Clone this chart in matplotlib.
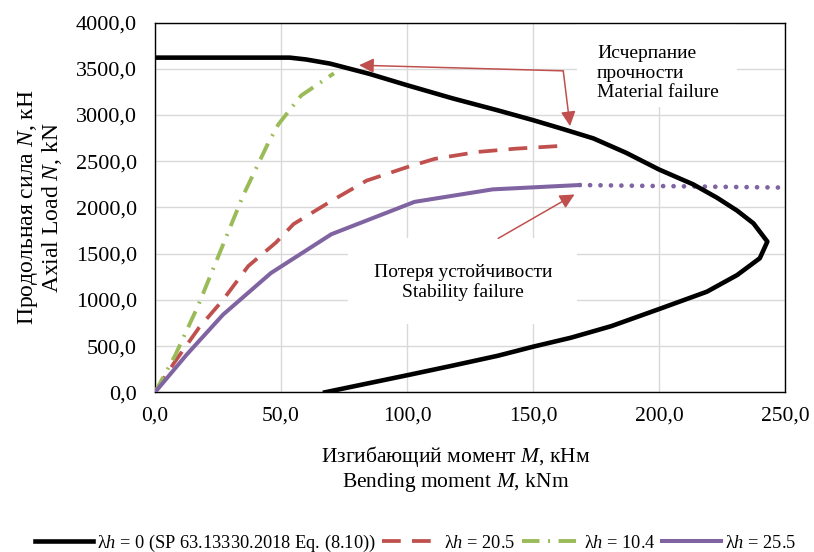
import matplotlib
matplotlib.use('Agg')
import matplotlib.pyplot as plt
from matplotlib.patches import Rectangle
from matplotlib.ticker import FuncFormatter, MultipleLocator

# Fonts: Times-like serif for everything, italic symbols through mathtext
plt.rcParams['font.family'] = ['Liberation Serif', 'DejaVu Serif']
plt.rcParams['mathtext.fontset'] = 'custom'
plt.rcParams['mathtext.rm'] = 'Liberation Serif'
plt.rcParams['mathtext.it'] = 'Liberation Serif:italic'

# Data (M in kNm, N in kN)
# Interaction curve, lambda*h = 0
m_limit = [0, 53.5, 60, 69.5, 85, 100, 118, 136, 150, 161, 174, 187, 200, 213.5, 223, 231, 237.5, 243,
           240, 231, 219, 200, 181, 165, 150, 136, 118, 100.5, 83, 67.5]
n_limit = [3620, 3620, 3600, 3555, 3445, 3322, 3180, 3050, 2944, 2855, 2746, 2590, 2410, 2250, 2105, 1965, 1827, 1630,
           1450, 1268, 1088, 900, 715, 590, 493, 395, 288, 187, 88, 0]

# lambda*h = 20.5
m_205 = [0, 7.5, 17.5, 27, 37, 48, 55, 70, 84, 100, 111, 128, 143, 164]
n_205 = [0, 315, 700, 1000, 1365, 1620, 1820, 2070, 2290, 2435, 2525, 2600, 2635, 2670]

# lambda*h = 10.4
m_104 = [0, 8, 17, 26, 35, 45, 49, 58, 71]
n_104 = [0, 400, 930, 1530, 2130, 2700, 2900, 3210, 3450]

# lambda*h = 25.5 (solid part and dotted continuation)
m_255 = [0, 12.5, 27, 46, 70, 103, 134, 168.5]
n_255 = [0, 405, 840, 1290, 1710, 2060, 2195, 2242]
m_255_ext = [168.5, 250]
n_255_ext = [2242, 2214]

legend_labels = ['λ$h$ = 0 (SP 63.13330.2018 Eq. (8.10))', 'λ$h$ = 20.5', 'λ$h$ = 10.4', 'λ$h$ = 25.5']

c_black = '#000000'
c_red = '#c0504d'
c_green = '#9bbb59'
c_purple = '#8064a2'
c_arrow = '#c0504d'

fig = plt.figure(figsize=(8.14, 5.52), dpi=100)
ax = fig.add_axes([155 / 814, 1 - 392.3 / 552, 630 / 814, 369.8 / 552])

l1, = ax.plot(m_limit, n_limit, color=c_black, lw=3.3, zorder=4)
l2, = ax.plot(m_205, n_205, color=c_red, lw=2.7, ls=(0, (5, 3)), zorder=3)
l3, = ax.plot(m_104, n_104, color=c_green, lw=2.8, ls=(0, (4.5, 2.2, 0.5, 2.2)), zorder=3)
l4, = ax.plot(m_255, n_255, color=c_purple, lw=2.9, zorder=3)
ax.plot(m_255_ext, n_255_ext, color=c_purple, lw=3.4, ls=(0, (0.01, 2.2)),
        dash_capstyle='round', zorder=3)

# white boxes behind the notes (they hide the grid)
ax.add_patch(Rectangle((167.5, 3085), 63.5, 915, facecolor='white', edgecolor='none', zorder=1.5))
ax.add_patch(Rectangle((76.6, 739), 90.9, 929, facecolor='white', edgecolor='none', zorder=1.5))

# Annotation arrows
arrow_kw = dict(arrowstyle='-|>', color=c_arrow, lw=1.1, mutation_scale=22, shrinkA=0, shrinkB=0)
ax.annotate('', xy=(81, 3538), xytext=(162, 3477), arrowprops=arrow_kw, zorder=5)
ax.annotate('', xy=(164.7, 2879), xytext=(162, 3477), arrowprops=arrow_kw, zorder=5)
ax.annotate('', xy=(166.5, 2140), xytext=(136.2, 1665), arrowprops=arrow_kw, zorder=5)

ax.text(175.4, 3452, 'Исчерпание\nпрочности\nMaterial failure', fontsize=14,
        ha='left', va='center', linespacing=1.2, zorder=2)
ax.text(122.2, 1187, 'Потеря устойчивости\nStability failure', fontsize=14,
        ha='center', va='center', linespacing=1.2, zorder=2)

ax.set_xlim(0, 250)
ax.set_ylim(0, 4000)
ax.xaxis.set_major_locator(MultipleLocator(50))
ax.yaxis.set_major_locator(MultipleLocator(500))
comma = FuncFormatter(lambda v, p: f'{v:.1f}'.replace('.', ','))
ax.xaxis.set_major_formatter(comma)
ax.yaxis.set_major_formatter(comma)
ax.tick_params(axis='x', length=0, labelsize=15.5, pad=10)
ax.tick_params(axis='y', length=0, labelsize=16, pad=13)
ax.set_axisbelow(True)
ax.grid(True, color='#d9d9d9', lw=1.0)
for s in ax.spines.values():
    s.set_color('#000000')
    s.set_linewidth(1.0)

ax.set_xlabel('Изгибающий момент $M$, кНм\nBending moment $M$, kNm', fontsize=15.5, linespacing=1.1)
ax.set_ylabel('Продольная сила $N$, кН\nAxial Load $N$, kN', fontsize=17, linespacing=1.0)
ax.xaxis.set_label_coords(0.478, -0.141, transform=ax.transAxes)
ax.yaxis.set_label_coords(-0.145, 0.5, transform=ax.transAxes)

fig.legend([l1, l2, l3, l4], legend_labels, loc='center', bbox_to_anchor=(0.51, 1 - 543 / 552),
           ncol=4, frameon=False, fontsize=13.2, handlelength=3.2, handletextpad=0.2,
           columnspacing=0.35)

fig.savefig('out.png', dpi=100)
